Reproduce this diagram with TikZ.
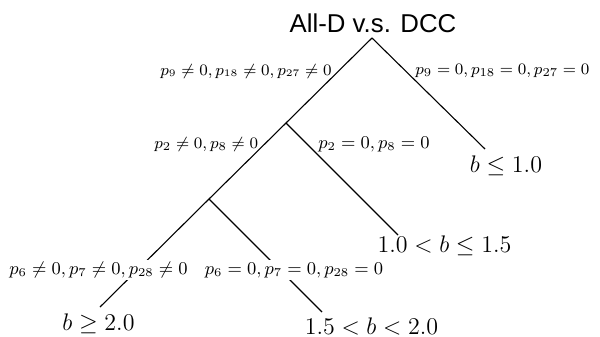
\documentclass[tikz,border=0pt]{standalone}
\usepackage{fontspec}
\newfontfamily\titlefont{Liberation Sans}
\begin{document}
\begin{tikzpicture}[x=0.5pt,y=-0.5pt,
  edge/.style={draw=black,line width=0.55pt},
  leaf/.style={inner sep=0pt,font=\fontsize{12.1}{14}\selectfont},
  elabel/.style={inner sep=0pt},
  blabel/.style={inner sep=1pt,fill=white},
  ttl/.style={inner sep=0pt,font=\titlefont\fontsize{12.9}{15}\selectfont}]
\useasboundingbox (0,0) rectangle (600,337);
\node[ttl] (title) at (373,23.5) {All-D v.s. DCC};
\coordinate (R) at (372,38);
\coordinate (A) at (286,123);
\coordinate (B) at (209,199);
\coordinate (e1) at (485,149);
\coordinate (e2) at (398,235);
\coordinate (e3) at (100,307);
\coordinate (e4) at (322,312);
\node[leaf] (L1) at (506,166) {$b \leq 1.0$};
\node[leaf] (L2) at (444.5,246) {$1.0 < b \leq 1.5$};
\node[leaf] (L3) at (98.5,324) {$b \geq 2.0$};
\node[leaf,font=\fontsize{13.1}{15}\selectfont] (L4) at (371.5,326) {$1.5 < b < 2.0$};
\draw[edge] (R) -- (A) -- (B) -- (e3);
\draw[edge] (R) -- (e1);
\draw[edge] (A) -- (e2);
\draw[edge] (B) -- (e4);
\node[elabel,anchor=east,font=\fontsize{7.65}{9}\selectfont] (l1) at (332,71) {$p_9 \neq 0, p_{18} \neq 0, p_{27} \neq 0$};
\node[elabel,anchor=west,font=\fontsize{8.4}{10}\selectfont] (l2) at (415,71) {$p_9 = 0, p_{18} = 0, p_{27} = 0$};
\node[elabel,anchor=east,font=\fontsize{8.0}{9}\selectfont] (l3) at (258.5,144) {$p_2 \neq 0, p_8 \neq 0$};
\node[elabel,anchor=west,font=\fontsize{8.66}{10}\selectfont] (l4) at (318,144) {$p_2 = 0, p_8 = 0$};
\node[blabel,font=\fontsize{8.85}{10}\selectfont] (l5) at (98.5,270) {$p_6 \neq 0, p_7 \neq 0, p_{28} \neq 0$};
\node[blabel,font=\fontsize{9.15}{10}\selectfont] (l6) at (294,270) {$p_6 = 0, p_7 = 0, p_{28} = 0$};
\end{tikzpicture}
\end{document}
